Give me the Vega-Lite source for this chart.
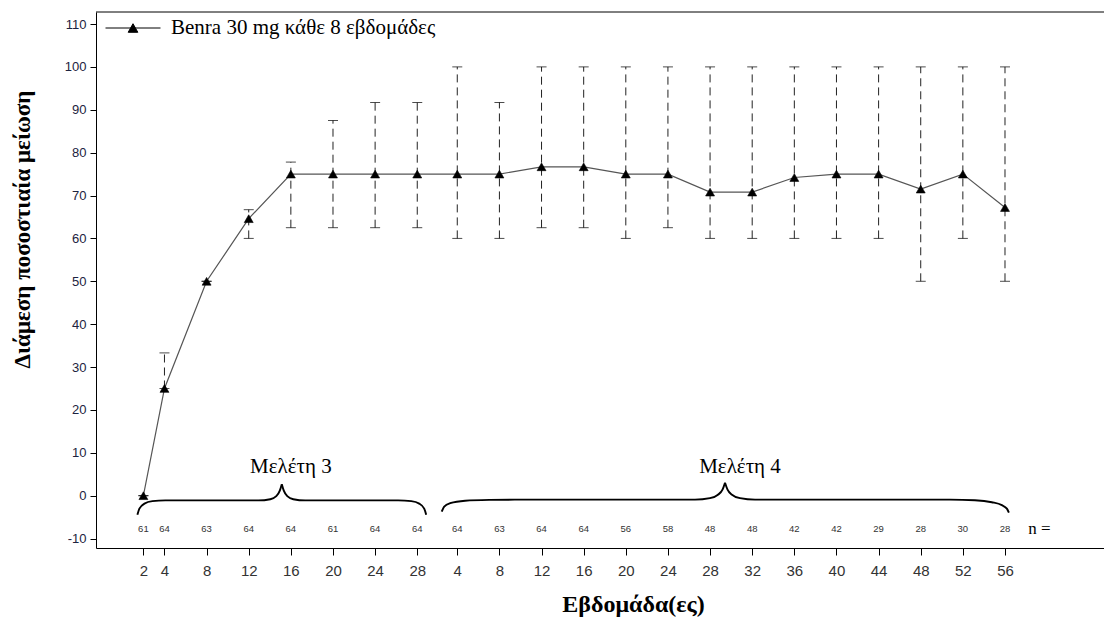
{
  "$schema": "https://vega.github.io/schema/vega-lite/v6.json",
  "width": 1008,
  "height": 536,
  "autosize": {"type": "none"},
  "padding": {"left": 96, "top": 12, "right": 0, "bottom": 70},
  "background": "white",
  "config": {
    "view": {"stroke": null},
    "axis": {"grid": false, "domainColor": "black", "tickColor": "black"}
  },
  "datasets": {
    "main": [
      {"study": 3, "week": 2, "median": 0, "q1": 0, "q3": 0, "n": 61, "series": "Benra 30 mg κάθε 8 εβδομάδες"},
      {"study": 3, "week": 4, "median": 25, "q1": 25, "q3": 33.3, "n": 64, "series": "Benra 30 mg κάθε 8 εβδομάδες"},
      {"study": 3, "week": 8, "median": 50, "q1": 50, "q3": 50, "n": 63, "series": "Benra 30 mg κάθε 8 εβδομάδες"},
      {"study": 3, "week": 12, "median": 64.6, "q1": 60, "q3": 66.7, "n": 64, "series": "Benra 30 mg κάθε 8 εβδομάδες"},
      {"study": 3, "week": 16, "median": 75, "q1": 62.5, "q3": 77.8, "n": 64, "series": "Benra 30 mg κάθε 8 εβδομάδες"},
      {"study": 3, "week": 20, "median": 75, "q1": 62.5, "q3": 87.5, "n": 61, "series": "Benra 30 mg κάθε 8 εβδομάδες"},
      {"study": 3, "week": 24, "median": 75, "q1": 62.5, "q3": 91.7, "n": 64, "series": "Benra 30 mg κάθε 8 εβδομάδες"},
      {"study": 3, "week": 28, "median": 75, "q1": 62.5, "q3": 91.7, "n": 64, "series": "Benra 30 mg κάθε 8 εβδομάδες"},
      {"study": 4, "week": 4, "median": 75, "q1": 60, "q3": 100, "n": 64, "series": "Benra 30 mg κάθε 8 εβδομάδες"},
      {"study": 4, "week": 8, "median": 75, "q1": 60, "q3": 91.7, "n": 63, "series": "Benra 30 mg κάθε 8 εβδομάδες"},
      {"study": 4, "week": 12, "median": 76.7, "q1": 62.5, "q3": 100, "n": 64, "series": "Benra 30 mg κάθε 8 εβδομάδες"},
      {"study": 4, "week": 16, "median": 76.7, "q1": 62.5, "q3": 100, "n": 64, "series": "Benra 30 mg κάθε 8 εβδομάδες"},
      {"study": 4, "week": 20, "median": 75, "q1": 60, "q3": 100, "n": 56, "series": "Benra 30 mg κάθε 8 εβδομάδες"},
      {"study": 4, "week": 24, "median": 75, "q1": 62.5, "q3": 100, "n": 58, "series": "Benra 30 mg κάθε 8 εβδομάδες"},
      {"study": 4, "week": 28, "median": 70.8, "q1": 60, "q3": 100, "n": 48, "series": "Benra 30 mg κάθε 8 εβδομάδες"},
      {"study": 4, "week": 32, "median": 70.8, "q1": 60, "q3": 100, "n": 48, "series": "Benra 30 mg κάθε 8 εβδομάδες"},
      {"study": 4, "week": 36, "median": 74.2, "q1": 60, "q3": 100, "n": 42, "series": "Benra 30 mg κάθε 8 εβδομάδες"},
      {"study": 4, "week": 40, "median": 75, "q1": 60, "q3": 100, "n": 42, "series": "Benra 30 mg κάθε 8 εβδομάδες"},
      {"study": 4, "week": 44, "median": 75, "q1": 60, "q3": 100, "n": 29, "series": "Benra 30 mg κάθε 8 εβδομάδες"},
      {"study": 4, "week": 48, "median": 71.5, "q1": 50, "q3": 100, "n": 28, "series": "Benra 30 mg κάθε 8 εβδομάδες"},
      {"study": 4, "week": 52, "median": 75, "q1": 60, "q3": 100, "n": 30, "series": "Benra 30 mg κάθε 8 εβδομάδες"},
      {"study": 4, "week": 56, "median": 67.2, "q1": 50, "q3": 100, "n": 28, "series": "Benra 30 mg κάθε 8 εβδομάδες"}
    ],
    "brace": [
      {"part": "3L", "study": 3, "week": 1.43, "y": -4.43},
      {"part": "3L", "study": 3, "week": 1.62, "y": -3.03},
      {"part": "3L", "study": 3, "week": 2.10, "y": -1.86},
      {"part": "3L", "study": 3, "week": 2.85, "y": -1.28},
      {"part": "3L", "study": 3, "week": 4.09, "y": -1.10},
      {"part": "3L", "study": 3, "week": 12.91, "y": -1.10},
      {"part": "3L", "study": 3, "week": 14.05, "y": -0.82},
      {"part": "3L", "study": 3, "week": 14.62, "y": -0.12},
      {"part": "3L", "study": 3, "week": 14.95, "y": 1.17},
      {"part": "3L", "study": 3, "week": 15.14, "y": 2.68},
      {"part": "3R", "study": 3, "week": 15.14, "y": 2.68},
      {"part": "3R", "study": 3, "week": 15.33, "y": 1.17},
      {"part": "3R", "study": 3, "week": 15.66, "y": -0.12},
      {"part": "3R", "study": 3, "week": 16.23, "y": -0.82},
      {"part": "3R", "study": 3, "week": 17.37, "y": -1.10},
      {"part": "3R", "study": 3, "week": 26.19, "y": -1.10},
      {"part": "3R", "study": 3, "week": 27.43, "y": -1.28},
      {"part": "3R", "study": 3, "week": 28.19, "y": -1.86},
      {"part": "3R", "study": 3, "week": 28.66, "y": -3.03},
      {"part": "3R", "study": 3, "week": 28.85, "y": -4.43},
      {"part": "4L", "study": 4, "week": 2.52, "y": -3.73},
      {"part": "4L", "study": 4, "week": 2.76, "y": -2.56},
      {"part": "4L", "study": 4, "week": 3.33, "y": -1.75},
      {"part": "4L", "study": 4, "week": 4.75, "y": -1.17},
      {"part": "4L", "study": 4, "week": 7.12, "y": -0.98},
      {"part": "4L", "study": 4, "week": 9.49, "y": -0.93},
      {"part": "4L", "study": 4, "week": 26.57, "y": -0.93},
      {"part": "4L", "study": 4, "week": 27.99, "y": -0.58},
      {"part": "4L", "study": 4, "week": 28.75, "y": 0.23},
      {"part": "4L", "study": 4, "week": 29.18, "y": 1.40},
      {"part": "4L", "study": 4, "week": 29.42, "y": 3.03},
      {"part": "4R", "study": 4, "week": 29.42, "y": 3.03},
      {"part": "4R", "study": 4, "week": 29.66, "y": 1.40},
      {"part": "4R", "study": 4, "week": 30.08, "y": 0.23},
      {"part": "4R", "study": 4, "week": 30.84, "y": -0.58},
      {"part": "4R", "study": 4, "week": 32.27, "y": -0.93},
      {"part": "4R", "study": 4, "week": 50.77, "y": -0.93},
      {"part": "4R", "study": 4, "week": 53.14, "y": -1.05},
      {"part": "4R", "study": 4, "week": 54.75, "y": -1.52},
      {"part": "4R", "study": 4, "week": 55.70, "y": -2.21},
      {"part": "4R", "study": 4, "week": 56.18, "y": -3.03},
      {"part": "4R", "study": 4, "week": 56.37, "y": -3.96}
    ],
    "labels": [
      {"label": "Μελέτη 3", "study": 3, "week": 16.0, "y": 6.8},
      {"label": "Μελέτη 4", "study": 4, "week": 30.84, "y": 6.8}
    ]
  },
  "layer": [
    {
      "data": {"name": "main"},
      "transform": [{"calculate": "datum.study == 4 ? datum.week + 27.8 : datum.week", "as": "pos"}],
      "layer": [
        {
          "mark": {"type": "line", "color": "#555555", "strokeWidth": 1.2},
          "encoding": {
            "x": {
              "field": "pos", "type": "quantitative",
              "scale": {"domain": [-2.5, 93.2], "nice": false, "zero": false},
              "axis": {
                "values": [2, 4, 8, 12, 16, 20, 24, 28, 31.8, 35.8, 39.8, 43.8, 47.8, 51.8, 55.8, 59.8, 63.8, 67.8, 71.8, 75.8, 79.8, 83.8],
                "labelExpr": "datum.value < 30 ? datum.value : round(datum.value - 27.8)",
                "title": "Εβδομάδα(ες)",
                "grid": false,
                "domainColor": "black",
                "tickColor": "black",
                "tickSize": 7,
                "labelFont": "Liberation Sans",
                "labelFontSize": 15,
                "labelColor": "#333333",
                "labelPadding": 8,
                "labelFlush": false,
                "labelOverlap": false,
                "titleFont": "Liberation Serif",
                "titleFontSize": 24,
                "titleFontWeight": "bold",
                "titleColor": "black",
                "titleX": 537,
                "titleY": 56,
                "titleAlign": "center",
                "titleBaseline": "middle"
              }
            },
            "y": {
              "field": "median", "type": "quantitative",
              "scale": {"domain": [-12.2, 112.8], "nice": false, "zero": false},
              "axis": {
                "values": [-10, 0, 10, 20, 30, 40, 50, 60, 70, 80, 90, 100, 110],
                "labelExpr": "'' + datum.value",
                "title": "Διάμεση ποσοστιαία μείωση",
                "grid": false,
                "domainColor": "black",
                "tickColor": "black",
                "tickSize": 6,
                "labelFont": "Liberation Sans",
                "labelFontSize": 13,
                "labelColor": "#1c2340",
                "labelPadding": 4,
                "titleFont": "Liberation Serif",
                "titleFontSize": 23,
                "titleFontWeight": "bold",
                "titleColor": "black",
                "titleX": -74,
                "titleY": 217,
                "titleAlign": "center",
                "titleBaseline": "middle",
                "titleAngle": -90
              }
            }
          }
        },
        {
          "mark": {"type": "rule", "color": "#222222", "strokeWidth": 1, "strokeDash": [8, 5]},
          "encoding": {
            "x": {"field": "pos", "type": "quantitative"},
            "y": {"field": "q1", "type": "quantitative"},
            "y2": {"field": "q3"}
          }
        },
        {
          "mark": {"type": "tick", "orient": "horizontal", "color": "black", "size": 10, "thickness": 1},
          "encoding": {
            "x": {"field": "pos", "type": "quantitative"},
            "y": {"field": "q3", "type": "quantitative"}
          }
        },
        {
          "mark": {"type": "tick", "orient": "horizontal", "color": "black", "size": 10, "thickness": 1},
          "encoding": {
            "x": {"field": "pos", "type": "quantitative"},
            "y": {"field": "q1", "type": "quantitative"}
          }
        },
        {
          "mark": {"type": "point", "shape": "triangle-up", "filled": true, "fill": "black", "stroke": "black", "strokeWidth": 0.6, "size": 80, "opacity": 1},
          "encoding": {
            "x": {"field": "pos", "type": "quantitative"},
            "y": {"field": "median", "type": "quantitative"},
            "color": {
              "field": "series", "type": "nominal",
              "scale": {"range": ["black"]},
              "legend": {
                "orient": "none",
                "legendX": 9,
                "legendY": -12,
                "title": null,
                "padding": 0,
                "symbolType": "M-1,0H1M-0.175,0.156L0,-0.156L0.175,0.156Z",
                "symbolSize": 3025,
                "symbolStrokeColor": "black",
                "symbolStrokeWidth": 1,
                "symbolFillColor": "black",
                "labelFont": "Liberation Serif",
                "labelFontSize": 21,
                "labelColor": "black",
                "labelOffset": 10,
                "labelLimit": 600
              }
            }
          }
        },
        {
          "mark": {"type": "text", "font": "Liberation Sans", "fontSize": 9.5, "color": "#333333", "align": "center", "baseline": "middle"},
          "encoding": {
            "x": {"field": "pos", "type": "quantitative"},
            "y": {"datum": -7.7, "type": "quantitative"},
            "text": {"field": "n", "type": "nominal"}
          }
        }
      ]
    },
    {
      "data": {"values": [{}]},
      "mark": {"type": "rule", "color": "black", "strokeWidth": 1},
      "encoding": {
        "y": {"datum": 112.8, "type": "quantitative"}
      }
    },
    {
      "data": {"name": "brace"},
      "transform": [{"calculate": "datum.study == 4 ? datum.week + 27.8 : datum.week", "as": "pos"}],
      "mark": {"type": "line", "interpolate": "monotone", "color": "black", "strokeWidth": 1.9},
      "encoding": {
        "x": {"field": "pos", "type": "quantitative"},
        "y": {"field": "y", "type": "quantitative"},
        "detail": {"field": "part", "type": "nominal"}
      }
    },
    {
      "data": {"name": "labels"},
      "transform": [{"calculate": "datum.study == 4 ? datum.week + 27.8 : datum.week", "as": "pos"}],
      "mark": {"type": "text", "font": "Liberation Serif", "fontSize": 21, "color": "black", "align": "center", "baseline": "middle"},
      "encoding": {
        "x": {"field": "pos", "type": "quantitative"},
        "y": {"field": "y", "type": "quantitative"},
        "text": {"field": "label"}
      }
    },
    {
      "data": {"values": [{}]},
      "mark": {"type": "text", "text": "n =", "font": "Liberation Serif", "fontSize": 17, "color": "black", "align": "left", "baseline": "middle"},
      "encoding": {
        "x": {"datum": 86.0, "type": "quantitative"},
        "y": {"datum": -7.7, "type": "quantitative"}
      }
    }
  ]
}
